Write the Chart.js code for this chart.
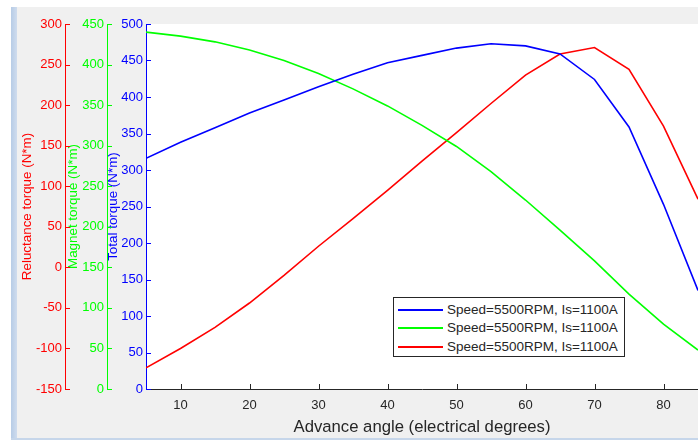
<!DOCTYPE html>
<html>
<head>
<meta charset="utf-8">
<script src="https://cdn.jsdelivr.net/npm/chart.js@4.4.1/dist/chart.umd.min.js"></script>
<style>
  html, body { margin: 0; padding: 0; background: #ffffff; }
  #fig { position: relative; width: 698px; height: 440px; overflow: hidden; background: #f0f0f0; }
  #topband { position: absolute; left: 0; top: 0; width: 698px; height: 7px; background: #ffffff; }
  #leftwhite { position: absolute; left: 0; top: 0; width: 11px; height: 440px; background: #ffffff; }
  #leftstrip { position: absolute; left: 11px; top: 7px; width: 6px; height: 433px; background: linear-gradient(to right, #b7cce6, #cfdcee); }
  #bottomline { position: absolute; left: 11px; top: 438px; width: 687px; height: 2px; background: #c6d6ea; }
  canvas { position: absolute; left: 0; top: 0; }
  #legend { position: absolute; left: 393px; top: 297px; width: 230px; height: 58px; background: #ffffff; border: 1px solid #262626;
            font-family: "Liberation Sans", Arial, sans-serif; font-size: 13.5px; color: #262626; }
  .row { position: absolute; left: 0; height: 18px; width: 230px; }
  .row .ln { position: absolute; left: 4px; top: 8px; width: 45px; height: 2px; }
  .row .tx { position: absolute; left: 53px; top: 0px; line-height: 18px; white-space: nowrap; }
</style>
</head>
<body>
<div id="fig">
  <div id="topband"></div>
  <div id="leftwhite"></div>
  <div id="leftstrip"></div>
  <div id="bottomline"></div>
  <canvas id="c" width="698" height="440"></canvas>
  <div id="legend"></div>
</div>
<script>
// ---- data ----
const angles = [5, 10, 15, 20, 25, 30, 35, 40, 45, 50, 55, 60, 65, 70, 75, 80, 85];
const totalTorque = [316, 338, 358, 378, 396, 414, 431, 447, 457, 467, 473, 470, 459, 424, 359, 253, 135];
const magnetTorque = [440, 435, 428, 418, 405, 389, 370, 349, 325, 299, 268, 233, 196, 158, 117, 80, 48];
const reluctanceTorque = [-124, -100, -74, -44, -10, 26, 60, 95, 131, 166, 202, 237, 263, 271, 244, 174, 84];
const seriesLabels = ['Speed=5500RPM, Is=1100A', 'Speed=5500RPM, Is=1100A', 'Speed=5500RPM, Is=1100A'];
const xTicks = [10, 20, 30, 40, 50, 60, 70, 80];
const xTitle = 'Advance angle (electrical degrees)';
const yTitles = { total: 'Total torque (N*m)', magnet: 'Magnet torque (N*m)', reluctance: 'Reluctance torque (N*m)' };

const FONT = '"Liberation Sans", Arial, Helvetica, sans-serif';
const BLUE = '#0000ff', GREEN = '#00ff00', RED = '#ff0000', DARK = '#262626';

const pts = arr => angles.map((a, i) => ({ x: a, y: arr[i] }));

const chartAreaBg = {
  id: 'chartAreaBg',
  beforeDraw(chart) {
    const { ctx, chartArea: a } = chart;
    ctx.save();
    ctx.fillStyle = '#ffffff';
    ctx.fillRect(a.left, a.top, a.right - a.left, a.bottom - a.top);
    ctx.restore();
  }
};

const innerTicks = {
  id: 'innerTicks',
  afterDraw(chart) {
    const ctx = chart.ctx, len = 5;
    ctx.save();
    ctx.lineWidth = 1;
    for (const id of ['yR', 'yM', 'yT']) {
      const s = chart.scales[id];
      const x = Math.round(s.right);
      ctx.strokeStyle = s.options.border.color;
      s.ticks.forEach((t, i) => {
        const y = Math.round(s.getPixelForTick(i)) + 0.5;
        ctx.beginPath(); ctx.moveTo(x, y); ctx.lineTo(x + len, y); ctx.stroke();
      });
    }
    const sx = chart.scales.x;
    ctx.strokeStyle = DARK;
    sx.ticks.forEach((t, i) => {
      const x = Math.round(sx.getPixelForTick(i)) + 0.5;
      const y = Math.round(sx.top);
      ctx.beginPath(); ctx.moveTo(x, y); ctx.lineTo(x, y - len); ctx.stroke();
    });
    ctx.restore();
  }
};

function yScale(color, min, max, weight, width, title, titlePad) {
  return {
    type: 'linear', position: 'left', weight: weight, min: min, max: max,
    afterFit: s => { s.width = width; },
    grid: { display: true, drawOnChartArea: false, drawTicks: false },
    border: { display: true, color: color, width: 1 },
    ticks: { stepSize: 50, color: color, padding: 3, font: { family: FONT, size: 13 } },
    title: { display: true, text: title, color: color, padding: { top: titlePad, bottom: 0 },
             font: { family: FONT, size: 13.4, lineHeight: 1.0 } }
  };
}

const chart = new Chart(document.getElementById('c'), {
  type: 'line',
  data: {
    datasets: [
      { label: seriesLabels[0], data: pts(totalTorque), yAxisID: 'yT', borderColor: BLUE, backgroundColor: BLUE },
      { label: seriesLabels[1], data: pts(magnetTorque), yAxisID: 'yM', borderColor: GREEN, backgroundColor: GREEN },
      { label: seriesLabels[2], data: pts(reluctanceTorque), yAxisID: 'yR', borderColor: RED, backgroundColor: RED }
    ]
  },
  options: {
    responsive: false,
    animation: false,
    devicePixelRatio: 1,
    layout: { padding: { top: 24, left: 0, right: 0, bottom: 0 } },
    elements: { line: { borderWidth: 1.6, tension: 0 }, point: { radius: 0 } },
    plugins: { legend: { display: false }, tooltip: { enabled: false } },
    scales: {
      x: {
        type: 'linear', min: 5, max: 85,
        afterBuildTicks: s => { s.ticks = xTicks.map(v => ({ value: v })); },
        afterFit: s => { s.height = 51; },
        grid: { display: true, drawOnChartArea: false, drawTicks: false },
        border: { display: true, color: DARK, width: 1 },
        ticks: { color: DARK, padding: 9, maxRotation: 0, font: { family: FONT, size: 13 } },
        title: { display: true, text: xTitle, color: DARK, padding: { top: 0, bottom: 3 },
                 font: { family: FONT, size: 16.7 } }
      },
      yR: yScale(RED, -150, 300, 3, 65, yTitles.reluctance, 21),
      yM: yScale(GREEN, 0, 450, 2, 42, yTitles.magnet, 2),
      yT: yScale(BLUE, 0, 500, 1, 39, yTitles.total, 0)
    }
  },
  plugins: [chartAreaBg, innerTicks]
});

// HTML legend built from the chart's datasets
const leg = document.getElementById('legend');
const rowTops = [3, 21, 40];
chart.data.datasets.forEach((ds, i) => {
  const r = document.createElement('div');
  r.className = 'row';
  r.style.top = rowTops[i] + 'px';
  const ln = document.createElement('div');
  ln.className = 'ln';
  ln.style.backgroundColor = ds.borderColor;
  const tx = document.createElement('div');
  tx.className = 'tx';
  tx.textContent = ds.label;
  r.appendChild(ln); r.appendChild(tx);
  leg.appendChild(r);
});
</script>
</body>
</html>
